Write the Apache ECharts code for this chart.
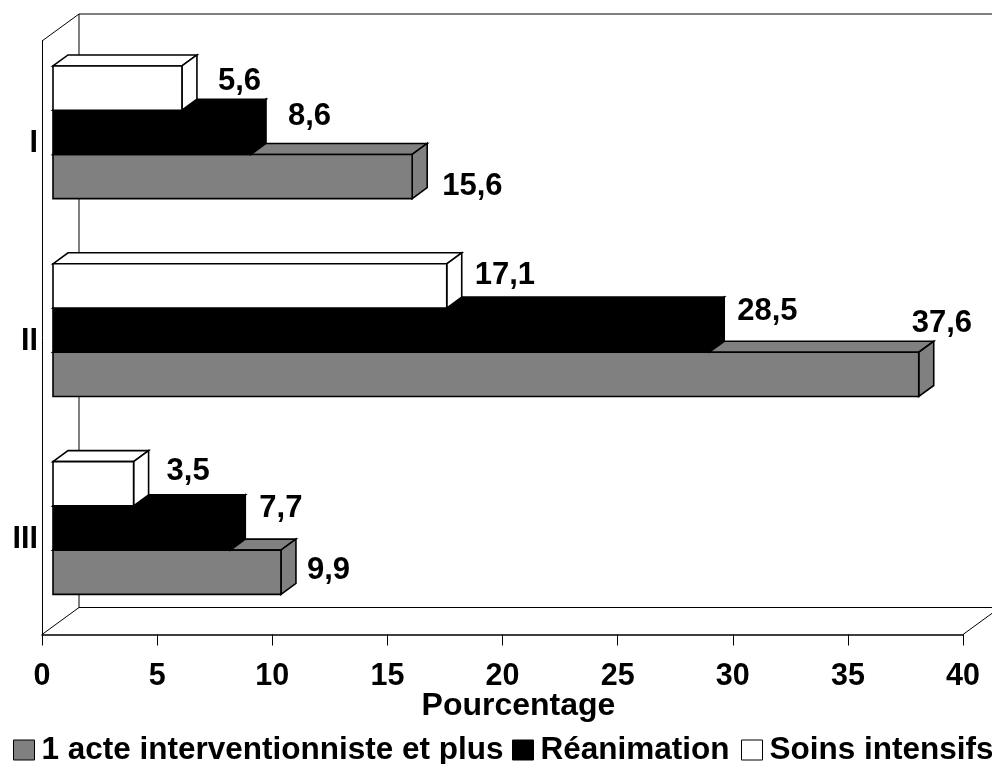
<!DOCTYPE html>
<html><head><meta charset="utf-8">
<style>html,body{margin:0;padding:0;background:#fff}#c{width:992px;height:764px}</style>
<script src="https://cdn.jsdelivr.net/npm/echarts@6/dist/echarts.min.js"></script>
</head><body><div id="c"></div>
<script>
const categories = ['I', 'II', 'III'];
const seriesNames = ['1 acte interventionniste et plus', 'Réanimation', 'Soins intensifs'];
const acteValues = [15.6, 37.6, 9.9];
const reanimationValues = [8.6, 28.5, 7.7];
const soinsValues = [5.6, 17.1, 3.5];
const xTicks = {min: 0, max: 40, interval: 5};
const xTitle = 'Pourcentage';

// layout (pixels), not data
const FAMILY = '"Liberation Sans", Arial, sans-serif';
const FONT = 'bold 31px ' + FAMILY;
const WALL_DX = 37, WALL_DY = -27;
const BAR_DX = 15, BAR_DY = -11, BAR_SHIFT_X = 11, BAR_SHIFT_Y = -7.6;
const BAR_FRAC = 44.2 / 197.67;
const LEGEND_LEFT = [13, 512, 741];
const LEGEND_FILL = ['#808080', '#000', '#fff'];
// label offset from the bar's back end, and from the bar's front-face centre
const labelOffsets = [
  [[15, 10], [-22, -51], [11, -2]],
  [[22, -16], [13, -19], [14, -20]],
  [[21, -7], [13, -10], [18, -12]]
];

const chart = echarts.init(document.getElementById('c'));
const line = {stroke: '#000', lineWidth: 1.6, lineJoin: 'miter'};

function barSeries(idx, values, color) {
  return {
    name: seriesNames[idx], type: 'custom', coordinateSystem: 'cartesian2d', clip: false,
    itemStyle: {color: color, borderColor: '#000', borderWidth: 1},
    encode: {x: 0, y: 1},
    data: values.map((v, i) => [v, i]),
    z: 3 + idx,
    renderItem(params, api) {
      const v = api.value(0), cat = api.value(1);
      const p0 = api.coord([0, cat]), p1 = api.coord([v, cat]);
      const h = api.size([0, 1])[1] * BAR_FRAC;
      const x0 = p0[0] + BAR_SHIFT_X, x1 = p1[0] + BAR_SHIFT_X;
      const yc = p0[1] + BAR_SHIFT_Y + (1 - idx) * h;
      const y0 = yc - h / 2, y1 = yc + h / 2;
      const style = Object.assign({fill: color}, line);
      const off = labelOffsets[idx][params.dataIndex];
      return {type: 'group', children: [
        {type: 'polygon', shape: {points: [[x0, y0], [x0 + BAR_DX, y0 + BAR_DY], [x1 + BAR_DX, y0 + BAR_DY], [x1, y0]]}, style},
        {type: 'polygon', shape: {points: [[x1, y0], [x1 + BAR_DX, y0 + BAR_DY], [x1 + BAR_DX, y1 + BAR_DY], [x1, y1]]}, style},
        {type: 'rect', shape: {x: x0, y: y0, width: x1 - x0, height: y1 - y0}, style},
        {type: 'text', x: x1 + BAR_DX + off[0], y: yc + off[1],
         style: {text: String(v).replace('.', ','), font: FONT, fill: '#000', textAlign: 'left', textVerticalAlign: 'middle'}}
      ]};
    }
  };
}

const wallSeries = {
  name: 'walls', type: 'custom', coordinateSystem: 'cartesian2d', clip: false, silent: true, z: 1,
  data: [[0, 0]],
  renderItem(params, api) {
    const c = params.coordSys;
    const l = c.x, t = c.y, r = c.x + c.width, b = c.y + c.height;
    const seg = (x1, y1, x2, y2) => ({type: 'line', shape: {x1, y1, x2, y2}, style: {stroke: '#000', lineWidth: 1}});
    return {type: 'group', children: [
      seg(l, t, l + WALL_DX, t + WALL_DY),
      seg(l + WALL_DX, t + WALL_DY, r + WALL_DX, t + WALL_DY),
      seg(l + WALL_DX, t + WALL_DY, l + WALL_DX, b + WALL_DY),
      seg(l + WALL_DX, b + WALL_DY, r + WALL_DX, b + WALL_DY),
      seg(l, b, l + WALL_DX, b + WALL_DY),
      seg(r, b, r + WALL_DX, b + WALL_DY)
    ]};
  }
};

chart.setOption({
  animation: false,
  backgroundColor: '#fff',
  textStyle: {fontFamily: FAMILY},
  grid: {left: 42, right: 29, top: 41, bottom: 129.5, containLabel: false},
  legend: seriesNames.map((name, i) => ({
    left: LEGEND_LEFT[i], top: 734, width: 600, itemWidth: 21, itemHeight: 20, padding: 0,
    data: [{name, icon: 'rect', itemStyle: {color: LEGEND_FILL[i], borderColor: '#000', borderWidth: 1}}],
    textStyle: {fontFamily: FAMILY, fontWeight: 'bold', fontSize: 31.5, color: '#000', padding: [0, 0, 0, 2]}
  })),
  xAxis: {
    type: 'value', min: xTicks.min, max: xTicks.max, interval: xTicks.interval,
    splitLine: {show: false},
    axisLine: {show: true, onZero: false, lineStyle: {color: '#000', width: 1.5}},
    axisTick: {show: true, length: 11, lineStyle: {color: '#000', width: 1}},
    axisLabel: {margin: 27, fontWeight: 'bold', fontSize: 30.5, color: '#000', fontFamily: FAMILY},
    name: xTitle, nameLocation: 'middle', nameGap: 56, nameMoveOverlap: false,
    nameTextStyle: {fontWeight: 'bold', fontSize: 32, color: '#000', fontFamily: FAMILY, padding: [0, 0, 0, 32]}
  },
  yAxis: {
    type: 'category', data: categories, inverse: true,
    axisLine: {show: true, lineStyle: {color: '#000', width: 1}},
    axisTick: {show: false},
    axisLabel: {
      margin: 4, formatter: v => '{c|' + v + '}',
      rich: {c: {fontWeight: 'bold', fontSize: 30.5, color: '#000', fontFamily: FAMILY, padding: [8, 0, 0, 0]}}
    }
  },
  series: [
    wallSeries,
    barSeries(0, acteValues, '#808080'),
    barSeries(1, reanimationValues, '#000'),
    barSeries(2, soinsValues, '#fff')
  ]
});
</script></body></html>
